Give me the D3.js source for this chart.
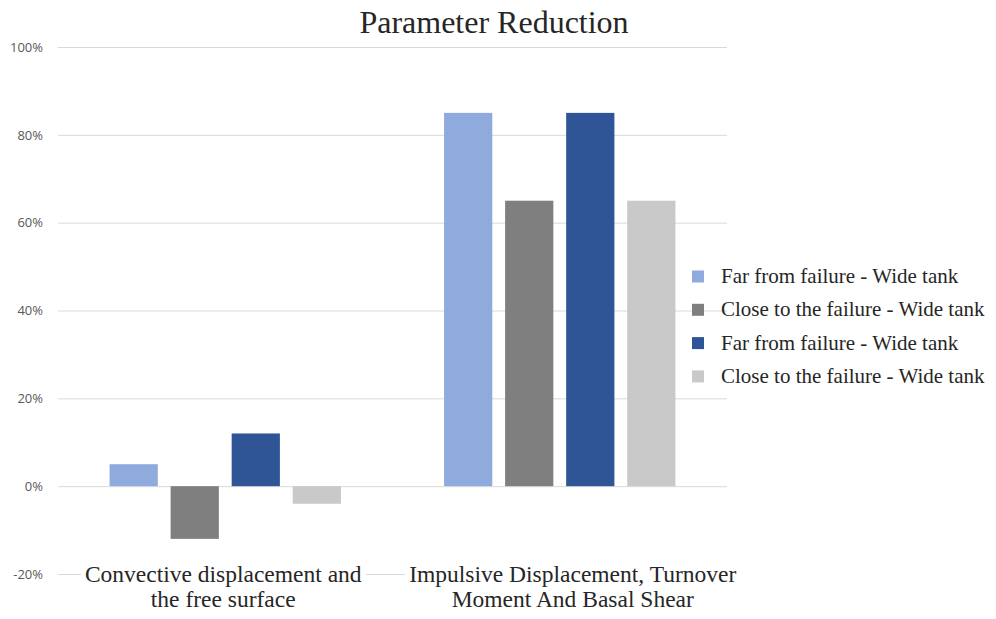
<!DOCTYPE html>
<html>
<head>
<meta charset="utf-8">
<script src="https://d3js.org/d3.v7.min.js"></script>
<style>
  body { margin: 0; background: #fff; }
</style>
</head>
<body>
<div id="chart"></div>
<script>
// chart data
var categories = [
  ["Convective displacement and", "the free surface"],
  ["Impulsive Displacement, Turnover", "Moment And Basal Shear"]
];
var seriesNames = [
  "Far from failure - Wide tank",
  "Close to the failure - Wide tank",
  "Far from failure - Wide tank",
  "Close to the failure - Wide tank"
];
var seriesValues = [
  [5, 85],
  [-12, 65],
  [12, 85],
  [-4, 65]
];
var yTicks = [-20, 0, 20, 40, 60, 80, 100];
var colors = ["#8faadc", "#7f7f7f", "#2f5597", "#c9c9c9"];

var W = 996, H = 619;
var margin = {top: 47, right: 269, bottom: 45, left: 58},
    width = W - margin.left - margin.right,
    height = H - margin.top - margin.bottom;

var serif = "'Liberation Serif', 'DejaVu Serif', serif";

var svg = d3.select("#chart")
  .append("svg")
    .attr("width", W)
    .attr("height", H)
  .append("g")
    .attr("transform", "translate(" + margin.left + "," + margin.top + ")");

// scales
var catIdx = categories.map(function(d, i) { return i; });
var x0 = d3.scaleBand()
  .domain(catIdx)
  .range([0, width])
  .paddingInner(0.27)
  .paddingOuter(0.135);
var x1 = d3.scaleBand()
  .domain(d3.range(seriesValues.length))
  .range([0, x0.bandwidth()])
  .paddingInner(0.21)
  .paddingOuter(0.105);
var y = d3.scaleLinear()
  .domain([-20, 100])
  .range([height, 0]);

// gridlines + tick labels
var yAxis = svg.append("g")
  .call(d3.axisLeft(y).tickValues(yTicks).tickSize(-width).tickFormat(function(d) { return d + "%"; }));
yAxis.select(".domain").remove();
yAxis.selectAll(".tick line").attr("stroke", "#d9d9d9").attr("stroke-width", 1);
yAxis.selectAll(".tick text")
  .attr("x", -15)
  .attr("fill", "#595959")
  .attr("font-family", "'Open Sans', 'Liberation Sans', Arial, sans-serif")
  .attr("font-size", 13);

// bars
var groups = svg.selectAll(".grp")
  .data(catIdx)
  .enter().append("g")
    .attr("transform", function(c) { return "translate(" + x0(c) + ",0)"; });

groups.selectAll("rect")
  .data(function(c) { return seriesValues.map(function(s, i) { return {s: i, v: s[c]}; }); })
  .enter().append("rect")
    .attr("x", function(d) { return x1(d.s); })
    .attr("y", function(d) { return y(Math.max(0, d.v)); })
    .attr("width", x1.bandwidth())
    .attr("height", function(d) { return Math.abs(y(d.v) - y(0)); })
    .attr("fill", function(d) { return colors[d.s]; });

// category labels, with white box behind so the -20% line is cut
var labelShift = [-2, 13];
var catLabels = svg.append("g");
categories.forEach(function(lines, c) {
  var cx = x0(c) + x0.bandwidth() / 2 + labelShift[c];
  lines.forEach(function(line, j) {
    var t = catLabels.append("text")
      .attr("x", cx)
      .attr("y", height + 8 + j * 25)
      .attr("text-anchor", "middle")
      .attr("fill", "#262626")
      .style("font-family", serif)
      .style("font-size", "23.5px")
      .text(line);
    var bb = t.node().getBBox();
    catLabels.insert("rect", "text")
      .attr("x", bb.x - 4).attr("y", bb.y + 3)
      .attr("width", bb.width + 8).attr("height", bb.height - 6)
      .attr("fill", "#fff");
  });
});

// title
svg.append("text")
  .attr("x", 436)
  .attr("y", -14)
  .attr("text-anchor", "middle")
  .attr("fill", "#262626")
  .style("font-family", serif)
  .style("font-size", "32px")
  .text("Parameter Reduction");

// legend
var legend = svg.append("g")
  .attr("transform", "translate(634,229.5)");
seriesNames.forEach(function(name, i) {
  var row = legend.append("g").attr("transform", "translate(0," + (i * 33.3) + ")");
  row.append("rect")
    .attr("x", 0).attr("y", -6)
    .attr("width", 12).attr("height", 12)
    .attr("fill", colors[i]);
  row.append("text")
    .attr("x", 29)
    .attr("y", 6.5)
    .attr("fill", "#262626")
    .style("font-family", serif)
    .style("font-size", "21px")
    .text(name);
});
</script>
</body>
</html>
